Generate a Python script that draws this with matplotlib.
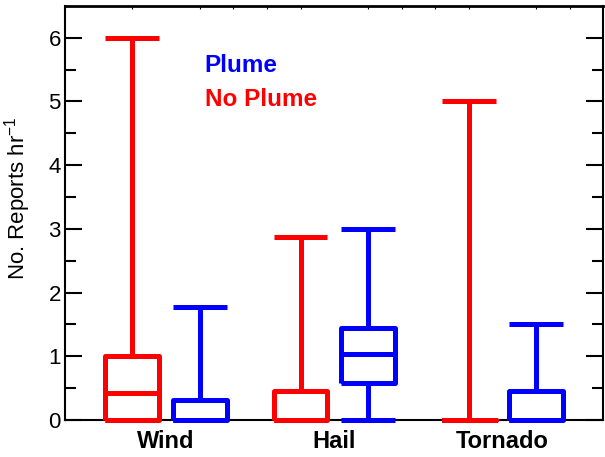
import matplotlib.pyplot as plt
import matplotlib as mpl

mpl.rc('font', family=['Liberation Sans', 'DejaVu Sans'])
plt.rcParams["mathtext.default"] = "regular"

categories = ["Wind", "Hail", "Tornado"]
cat_pos = [3, 8, 13]

# plume (blue) stats: whislo, q1, med, q3, whishi
plume_lo = [0, 0, 0]
plume_q1 = [0, 0.58, 0]
plume_med = [0, 1.03, 0]
plume_q3 = [0.32, 1.45, 0.45]
plume_hi = [1.78, 3.0, 1.5]

# no plume (red)
noplume_lo = [0, 0, 0]
noplume_q1 = [0, 0, 0]
noplume_med = [0.42, 0, 0]
noplume_q3 = [1.0, 0.45, 0]
noplume_hi = [6.0, 2.87, 5.0]


def stats(lo, q1, med, q3, hi):
	out = []
	for i in range(len(lo)):
		out.append({"whislo": lo[i], "q1": q1[i], "med": med[i],
					"q3": q3[i], "whishi": hi[i], "fliers": []})
	return out


fig = plt.figure(figsize=(6.05, 4.57), dpi=100)
ax = fig.add_axes([0.1074, 0.081, 0.89, 0.906])

lw = 3.6
for s, off, col in [(stats(noplume_lo, noplume_q1, noplume_med, noplume_q3, noplume_hi), -1, "#ff0000"),
					(stats(plume_lo, plume_q1, plume_med, plume_q3, plume_hi), 1, "#0000ff")]:
	pos = [p + off for p in cat_pos]
	art = ax.bxp(s, positions=pos, widths=1.6, capwidths=1.6, showfliers=False,
				 boxprops=dict(color=col, linewidth=lw),
				 whiskerprops=dict(color=col, linewidth=lw),
				 capprops=dict(color=col, linewidth=lw),
				 medianprops=dict(color=col, linewidth=lw),
				 manage_ticks=False)
	for k in art:
		for a in art[k]:
			a.set_clip_on(False)
			a.set_solid_capstyle("butt")
			a.set_zorder(3)

ax.set_xlim(0, 16)
ax.set_ylim(0, 6.5)
ax.set_xticks(cat_pos)
ax.set_xticklabels(categories, fontsize=17, fontweight="bold")
ax.tick_params(axis="x", length=0, pad=7)
ax.set_yticks(range(7))
ax.set_yticks([0.5 + i for i in range(6)], minor=True)
ax.tick_params(axis="y", which="major", direction="in", length=12, width=1.5,
			   labelsize=16, pad=3, right=True)
ax.tick_params(axis="y", which="minor", direction="in", length=8, width=1.5, right=True)
ax.set_xticks(range(2, 16), minor=True)
ax.tick_params(axis="x", which="minor", direction="in", length=2, width=0.8,
			   top=True, bottom=False)

for sp in ax.spines.values():
	sp.set_linewidth(1.5)
ax.spines["top"].set_linewidth(2)

ax.set_ylabel("No. Reports hr$^{-1}$", fontsize=16)
ax.yaxis.set_label_coords(-0.06, 0.535)

ax.text(4.15, 5.46, "Plume", color="#0000ff", fontsize=17.5, fontweight="bold")
ax.text(4.15, 4.93, "No Plume", color="#ff0000", fontsize=17.5, fontweight="bold")

fig.savefig("out.png", dpi=100)
